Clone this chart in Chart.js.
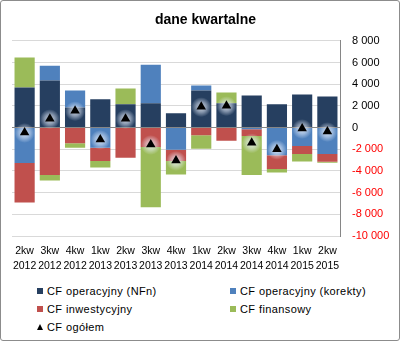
<!DOCTYPE html>
<html>
<head>
<meta charset="utf-8">
<script src="https://cdn.jsdelivr.net/npm/chart.js@4/dist/chart.umd.min.js"></script>
<style>
  html, body { margin: 0; padding: 0; background: #fff; }
  #frame {
    position: absolute; left: 0; top: 0; width: 398px; height: 339px;
    border: 1px solid #8c8c8c; border-radius: 3px; background: #fff;
    font-family: "Liberation Sans", Arial, sans-serif;
  }
  #chart { position: absolute; left: 0; top: 0; }
  .leg { position: absolute; font-size: 11px; letter-spacing: 0.4px; color: #000; line-height: 14px; white-space: nowrap; }
  .sw { position: absolute; width: 6px; height: 6px; }
  .tri { position: absolute; width: 0; height: 0; border-left: 3px solid transparent; border-right: 3px solid transparent; border-bottom: 6px solid #000; }
</style>
</head>
<body>
<div id="frame">
  <canvas id="chart" width="398" height="278"></canvas>
  <div id="legend"></div>
</div>
<script>
// Quarters shown on the category axis (quarter / year)
const quarters = ['2kw', '3kw', '4kw', '1kw', '2kw', '3kw', '4kw', '1kw', '2kw', '3kw', '4kw', '1kw', '2kw'];
const years    = ['2012', '2012', '2012', '2013', '2013', '2013', '2013', '2014', '2014', '2014', '2014', '2015', '2015'];

// Cash-flow components per quarter
const cfNfn      = [3700, 4340, 1860, 2600, 2140, 2230, 1310, 3420, 2230, 2960, 2140, 3050, 2870];
const cfKorekty  = [-3270, 1370, 1560, -1860, 0, 3570, -2050, 460, 0, -150, -2560, -1710, -2440];
const cfInwest   = [-3630, -4370, -1440, -1220, -2780, -1800, -1030, -700, -1220, -640, -1260, -730, -710];
const cfFinans   = [2750, -520, -420, -610, 1460, -5560, -1260, -1250, 1010, -3580, -330, -700, -90];
const cfOgolem   = [-450, 820, 1560, -1090, 820, -1560, -3030, 1930, 2020, -1410, -2010, -90, -370];

// Value axis ticks
const yTicks = [-10000, -8000, -6000, -4000, -2000, 0, 2000, 4000, 6000, 8000];

const seriesNames = ['CF operacyjny (NFn)', 'CF operacyjny (korekty)', 'CF inwestycyjny', 'CF finansowy', 'CF ogółem'];
const seriesColors = ['#263F60', '#4F81BD', '#C0504D', '#9BBB59', '#000000'];

const FONT = '"Liberation Sans", Arial, sans-serif';

function fmt(v) {
  const s = String(Math.abs(v)).replace(/\B(?=(\d{3})+(?!\d))/g, ' ');
  return (v < 0 ? '-' : '') + s;
}

// Soft light halo painted under each total marker
const glowPlugin = {
  id: 'markerGlow',
  beforeDatasetDraw(chart, args) {
    if (args.index !== 4) return;
    const ctx = chart.ctx;
    const meta = chart.getDatasetMeta(4);
    meta.data.forEach(pt => {
      const cx = pt.x, cy = pt.y + 0.5;
      const R = 10;
      const g = ctx.createRadialGradient(cx, cy, 0, cx, cy, R);
      g.addColorStop(0, 'rgba(255,255,255,0.8)');
      g.addColorStop(0.5, 'rgba(235,242,255,0.5)');
      g.addColorStop(1, 'rgba(235,242,255,0)');
      ctx.save();
      ctx.fillStyle = g;
      ctx.beginPath();
      ctx.arc(cx, cy, R, 0, Math.PI * 2);
      ctx.fill();
      ctx.restore();
    });
  }
};

const barDs = (i, data) => ({
  type: 'bar',
  label: seriesNames[i],
  data: data,
  backgroundColor: seriesColors[i],
  borderWidth: 0,
  stack: 'cf',
  order: 1,
  barPercentage: 0.8,
  categoryPercentage: 1.0
});

const chart = new Chart(document.getElementById('chart'), {
  data: {
    labels: quarters.map((q, i) => [q, years[i]]),
    datasets: [
      barDs(0, cfNfn),
      barDs(1, cfKorekty),
      barDs(2, cfInwest),
      barDs(3, cfFinans),
      {
        type: 'line',
        label: seriesNames[4],
        data: cfOgolem,
        showLine: false,
        stack: 'total',
        order: 0,
        pointStyle: 'triangle',
        pointRadius: 5.5,
        pointBackgroundColor: '#000',
        pointBorderColor: '#000',
        pointBorderWidth: 0
      }
    ]
  },
  options: {
    responsive: false,
    animation: false,
    layout: { padding: { left: 11, right: 0, top: 0, bottom: 0 } },
    plugins: {
      legend: { display: false },
      tooltip: { enabled: false },
      title: {
        display: true,
        text: 'dane kwartalne',
        color: '#000',
        font: { family: FONT, size: 14, weight: 'bold' },
        padding: { top: 11, bottom: 12 }
      }
    },
    scales: {
      x: {
        stacked: true,
        grid: { display: false, drawTicks: false },
        border: { display: false },
        ticks: {
          autoSkip: false, maxRotation: 0, minRotation: 0,
          color: '#000', padding: 8,
          font: { family: FONT, size: 10.5, lineHeight: 1.38 }
        },
        afterFit(scale) { scale.height = 43; }
      },
      y: {
        position: 'right',
        stacked: true,
        min: -10000, max: 8000,
        afterBuildTicks(scale) { scale.ticks = yTicks.map(v => ({ value: v })); },
        grid: {
          drawTicks: false,
          color: ctx => (ctx.tick && ctx.tick.value === 0) ? '#868686' : '#d9d9d9',
          lineWidth: 1
        },
        border: { display: true, color: '#868686', width: 1 },
        ticks: {
          padding: 12,
          color: ctx => ctx.tick.value < 0 ? '#ff0000' : '#000',
          font: { family: FONT, size: 11 },
          callback: v => fmt(v)
        },
        afterFit(scale) { scale.width = 59; }
      }
    }
  },
  plugins: [glowPlugin]
});

// Legend laid out in two columns below the plot
const legendPos = [
  { x: 36, y: 283 }, { x: 229, y: 283 },
  { x: 36, y: 301 }, { x: 229, y: 301 },
  { x: 36, y: 319 }
];
const legend = document.getElementById('legend');
chart.data.datasets.forEach((ds, i) => {
  const p = legendPos[i];
  const mark = document.createElement('div');
  if (i === 4) {
    mark.className = 'tri';
    mark.style.left = p.x + 'px';
    mark.style.top = (p.y + 4) + 'px';
  } else {
    mark.className = 'sw';
    mark.style.left = p.x + 'px';
    mark.style.top = (p.y + 4) + 'px';
    mark.style.background = seriesColors[i];
  }
  legend.appendChild(mark);
  const t = document.createElement('div');
  t.className = 'leg';
  t.style.left = (p.x + 10) + 'px';
  t.style.top = p.y + 'px';
  t.textContent = ds.label;
  legend.appendChild(t);
});
</script>
</body>
</html>
